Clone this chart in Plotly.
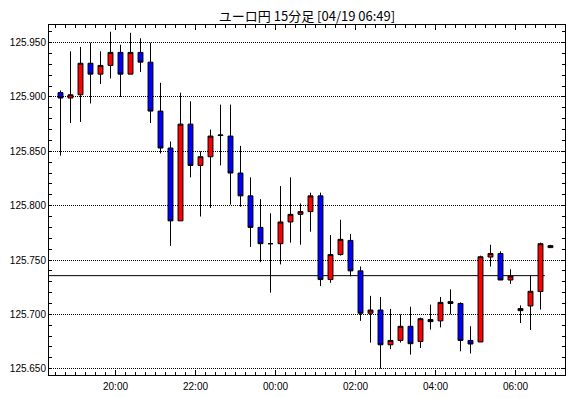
import pandas as pd
import plotly.graph_objects as go

# ---- data (15-minute candles, EUR/JPY) ----
start_time = "2024-04-18 18:30"
n_candles = 50
open_ = [125.904, 125.899, 125.902, 125.931, 125.921, 125.929, 125.941, 125.921, 125.941, 125.932,
         125.887, 125.853, 125.786, 125.875, 125.837, 125.845, 125.8645, 125.864, 125.830, 125.809,
         125.780, 125.765, 125.765, 125.785, 125.792, 125.7945, 125.809, 125.732, 125.755, 125.768,
         125.740, 125.701, 125.704, 125.672, 125.676, 125.689, 125.675, 125.6952, 125.694, 125.7117,
         125.710, 125.676, 125.6746, 125.7527, 125.756, 125.7316, 125.7034, 125.7077, 125.721, 125.7614]
high = [125.906, 125.942, 125.946, 125.950, 125.942, 125.960, 125.948, 125.959, 125.954, 125.950,
        125.913, 125.859, 125.904, 125.896, 125.850, 125.870, 125.893, 125.893, 125.855, 125.826,
        125.806, 125.793, 125.818, 125.826, 125.802, 125.812, 125.812, 125.773, 125.787, 125.774,
        125.744, 125.717, 125.716, 125.705, 125.700, 125.707, 125.697, 125.709, 125.716, 125.723,
        125.711, 125.689, 125.754, 125.764, 125.758, 125.7415, 125.7083, 125.7356, 125.766, 125.764]
low = [125.846, 125.876, 125.877, 125.894, 125.912, 125.917, 125.900, 125.921, 125.923, 125.876,
       125.848, 125.763, 125.786, 125.826, 125.790, 125.798, 125.837, 125.801, 125.799, 125.762,
       125.748, 125.720, 125.746, 125.766, 125.764, 125.776, 125.726, 125.729, 125.754, 125.735,
       125.694, 125.674, 125.650, 125.668, 125.674, 125.663, 125.669, 125.686, 125.688, 125.700,
       125.666, 125.664, 125.6746, 125.744, 125.7316, 125.728, 125.692, 125.6856, 125.7044, 125.7614]
close = [125.899, 125.902, 125.931, 125.921, 125.929, 125.941, 125.921, 125.941, 125.932, 125.887,
         125.853, 125.786, 125.875, 125.837, 125.845, 125.864, 125.865, 125.830, 125.809, 125.780,
         125.765, 125.765, 125.785, 125.792, 125.7945, 125.809, 125.732, 125.755, 125.769, 125.740,
         125.701, 125.704, 125.672, 125.676, 125.689, 125.673, 125.696, 125.6933, 125.711, 125.710,
         125.676, 125.6727, 125.753, 125.756, 125.7316, 125.7353, 125.7053, 125.7212, 125.765, 125.7632]
ref_level = 125.7356
ref_level_end = "2024-04-19 06:44"
title_text = "ユーロ円 15分足 [04/19 06:49]"
x_range = ["2024-04-18 18:20:15", "2024-04-19 07:14:15"]
y_range = [125.6442, 125.9662]

# candle centred in its 15-minute period
period_start = pd.date_range(start_time, periods=n_candles, freq="15min")
x = period_start + pd.Timedelta(minutes=7.5)

fig = go.Figure()
fig.add_trace(go.Candlestick(
    x=x, open=open_, high=high, low=low, close=close,
    increasing=dict(line=dict(color="black", width=1), fillcolor="#FF0000"),
    decreasing=dict(line=dict(color="black", width=1), fillcolor="#0000FF"),
    whiskerwidth=0, showlegend=False, hoverinfo="skip",
))

fig.add_shape(type="line", xref="x", yref="y", x0=x_range[0], x1=ref_level_end,
              y0=ref_level, y1=ref_level, line=dict(color="black", width=1), layer="below")

tick_font = dict(family="Liberation Sans", size=10, color="black")
fig.update_layout(
    width=570, height=398,
    margin=dict(l=49, r=5, t=25, b=23),
    paper_bgcolor="white", plot_bgcolor="white",
    title=dict(text=title_text, x=(49 + 565) / 2 / 570, xanchor="center",
               y=1 - 16 / 398, yanchor="middle",
               font=dict(family="Noto Sans CJK JP", size=13, color="black")),
    xaxis=dict(
        type="date", range=x_range, rangeslider=dict(visible=False),
        showline=True, linecolor="black", linewidth=1, mirror="ticks",
        ticks="inside", ticklen=5, tickcolor="black", tickwidth=1,
        dtick=7200000, tick0="2024-04-18 20:00", tickformat="%H:%M",
        showgrid=False, zeroline=False, tickfont=tick_font, ticklabelstandoff=2,
        minor=dict(ticks="inside", ticklen=3, tickcolor="black", dtick=900000,
                   tick0="2024-04-18 20:00", showgrid=False),
    ),
    yaxis=dict(
        range=y_range, showline=True, linecolor="black", linewidth=1, mirror="ticks",
        ticks="inside", ticklen=3, tickcolor="black", tickwidth=1,
        dtick=0.05, tick0=125.65, tickformat=".3f",
        showgrid=True, gridcolor="black", gridwidth=1, griddash="1px,1px",
        zeroline=False, tickfont=tick_font,
        minor=dict(ticks="inside", ticklen=3, tickcolor="black", dtick=0.01,
                   tick0=125.65, showgrid=False),
    ),
    hovermode=False,
)

fig.write_html("out.html")
